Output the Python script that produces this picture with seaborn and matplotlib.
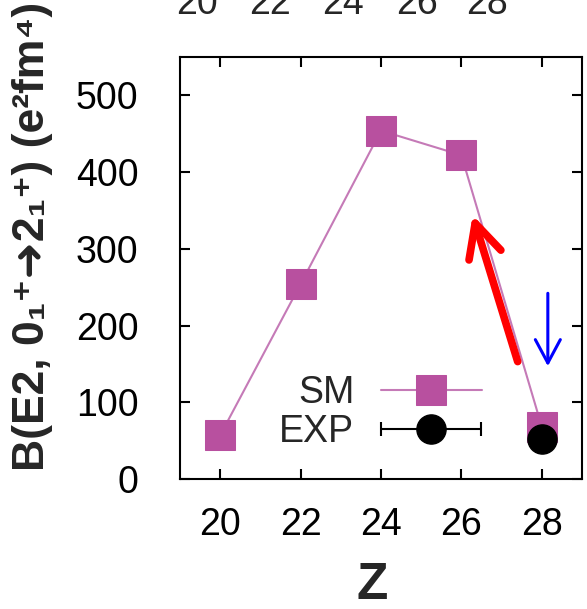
import matplotlib
matplotlib.use("Agg")
import matplotlib.pyplot as plt
import seaborn as sns
import pandas as pd
from matplotlib.container import ErrorbarContainer
from matplotlib.legend_handler import HandlerErrorbar

# shell-model B(E2) values vs proton number
z_sm = [20, 22, 24, 26, 28]
be2_sm = [57, 254, 454, 422, 68]

# experimental point
z_exp = [28]
be2_exp = [52]
be2_exp_xerr = [0]

# tick labels of the panel above (cut off at the top edge)
upper_ticks = ["20", "22", "24", "26", "28"]

sns.set_theme(style="ticks")
plt.rcParams["font.family"] = ["Liberation Sans", "DejaVu Sans"]

SM_COLOR = "#b8509f"
LINE_COLOR = "#c57ab7"

fig = plt.figure(figsize=(5.87, 6.09), dpi=100)
ax = fig.add_axes([0.3066, 0.2135, 0.6849, 0.6929])

df_sm = pd.DataFrame({"Z": z_sm, "BE2": be2_sm})
sns.lineplot(data=df_sm, x="Z", y="BE2", ax=ax, color=LINE_COLOR, linewidth=1.5,
             marker="s", markersize=22, markerfacecolor=SM_COLOR,
             markeredgecolor=SM_COLOR, label="SM", legend=False)
sm_line = ax.get_lines()[-1]

exp = ax.errorbar(z_exp, be2_exp, xerr=be2_exp_xerr, fmt="o", color="black",
                  markersize=21, capsize=5, elinewidth=1.5, capthick=1.5,
                  label="EXP", zorder=4)

# arrows
ax.annotate("", xy=(26.28, 344), xytext=(27.40, 153),
            arrowprops=dict(arrowstyle="->,head_length=2.0,head_width=1.0",
                            color="red", lw=5.5, capstyle="round",
                            joinstyle="round", shrinkA=0, shrinkB=0))
ax.annotate("", xy=(28.15, 147), xytext=(28.15, 242),
            arrowprops=dict(arrowstyle="->,head_length=1.4,head_width=0.75",
                            color="blue", lw=2.2, shrinkA=0, shrinkB=0))

ax.set_xlim(19, 29)
ax.set_ylim(0, 550)
ax.set_xticks([20, 22, 24, 26, 28])
ax.set_yticks([0, 100, 200, 300, 400, 500])
ax.tick_params(direction="in", length=7, width=1.5, labelsize=27,
               top=True, right=True, colors="black")
ax.tick_params(axis="y", pad=30)
ax.tick_params(axis="x", pad=20)
for s in ax.spines.values():
    s.set_linewidth(1.5)
    s.set_color("black")

ax.set_xlabel("Z", fontsize=37, fontweight="bold")
ax.xaxis.set_label_coords(0.478, -0.195)
ax.set_ylabel("B(E2, 0\u2081\u207a\u279c2\u2081\u207a) (e\u00b2fm\u2074)",
              fontsize=32, fontweight="bold")
ax.yaxis.set_label_coords(-0.315, 0.575)

# gnuplot-like key: label right-aligned, sample to the right
leg1 = ax.legend(handles=[sm_line], labels=["SM"], loc="center right",
                 bbox_to_anchor=(0.751, 0.204), frameon=False, fontsize=27,
                 markerfirst=False, handlelength=2.7, handletextpad=0.7,
                 borderpad=0, borderaxespad=0)
ax.add_artist(leg1)
ax.legend(handles=[exp], labels=["EXP"], loc="center right",
          bbox_to_anchor=(0.751, 0.111), frameon=False, fontsize=27,
          markerfirst=False, handlelength=2.7, handletextpad=0.7,
          borderpad=0, borderaxespad=0,
          handler_map={ErrorbarContainer: HandlerErrorbar(xerr_size=1.33, numpoints=1)})

for lbl, xp in zip(upper_ticks, [197, 270, 343, 417, 487]):
    fig.text(xp / 587, 1 - 14 / 609, lbl, ha="center", va="baseline", fontsize=27)

fig.savefig("out.png", dpi=100)
